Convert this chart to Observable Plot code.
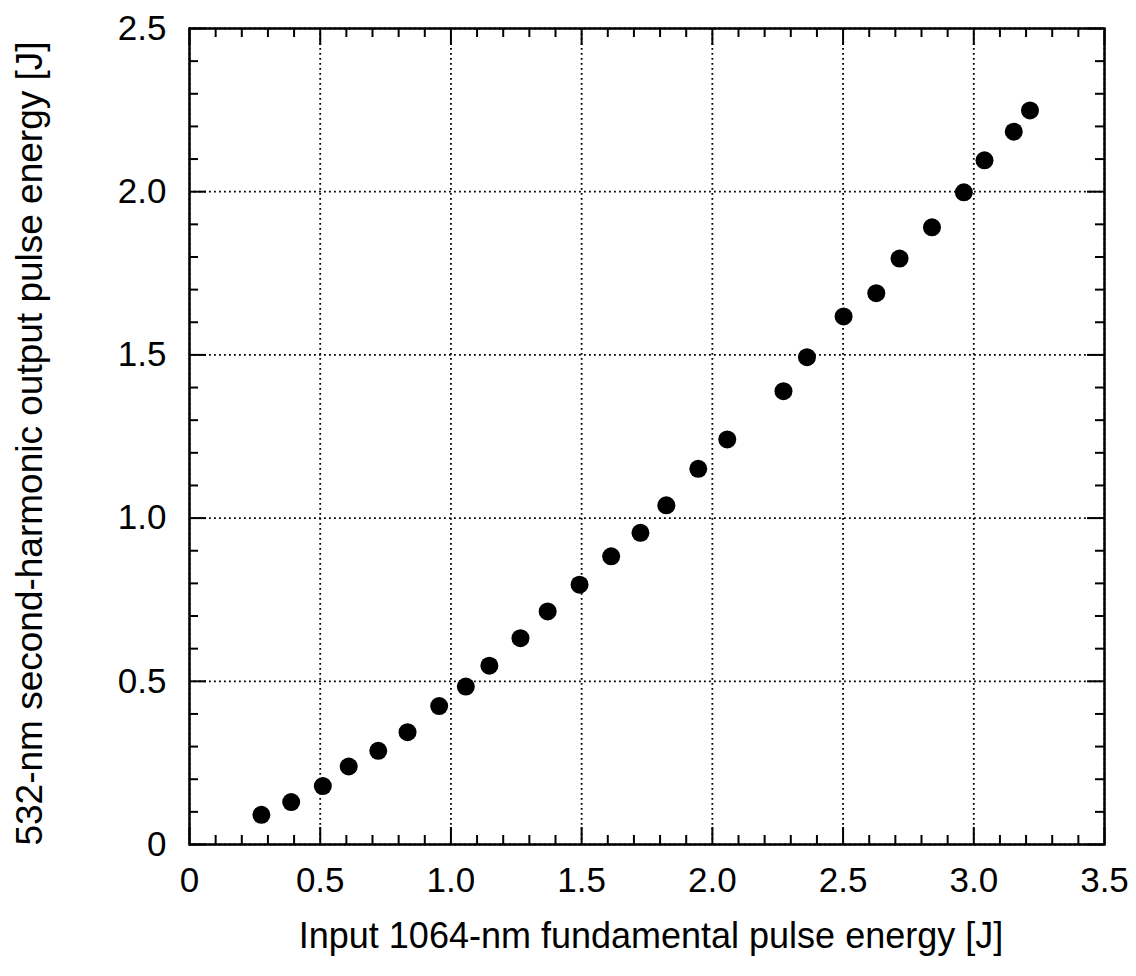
<!DOCTYPE html>
<html>
<head>
<meta charset="utf-8">
<script src="https://cdn.jsdelivr.net/npm/d3@7"></script>
<script src="https://cdn.jsdelivr.net/npm/@observablehq/plot@0.6"></script>
<style>
  html, body { margin: 0; padding: 0; background: #fff; }
  #chart svg { display: block; }
</style>
</head>
<body>
<div id="chart"></div>
<script>
// Data
const inputEnergy  = [0.275, 0.389, 0.510, 0.609, 0.722, 0.834, 0.955, 1.057, 1.147, 1.266,
                      1.370, 1.492, 1.613, 1.725, 1.824, 1.946, 2.057, 2.272, 2.362, 2.502,
                      2.627, 2.716, 2.840, 2.962, 3.041, 3.153, 3.215];
const outputEnergy = [0.091, 0.130, 0.179, 0.239, 0.287, 0.344, 0.424, 0.484, 0.548, 0.632,
                      0.714, 0.796, 0.883, 0.955, 1.039, 1.151, 1.241, 1.389, 1.493, 1.618,
                      1.689, 1.795, 1.891, 1.998, 2.096, 2.184, 2.249];

const xMajorTicks = [0, 0.5, 1.0, 1.5, 2.0, 2.5, 3.0, 3.5];
const xTickLabels = ["0", "0.5", "1.0", "1.5", "2.0", "2.5", "3.0", "3.5"];
const yMajorTicks = [0, 0.5, 1.0, 1.5, 2.0, 2.5];
const yTickLabels = ["0", "0.5", "1.0", "1.5", "2.0", "2.5"];
const xMinorTicks = [0.1,0.2,0.3,0.4, 0.6,0.7,0.8,0.9, 1.1,1.2,1.3,1.4, 1.6,1.7,1.8,1.9,
                     2.1,2.2,2.3,2.4, 2.6,2.7,2.8,2.9, 3.1,3.2,3.3,3.4];
const yMinorTicks = [0.1,0.2,0.3,0.4, 0.6,0.7,0.8,0.9, 1.1,1.2,1.3,1.4, 1.6,1.7,1.8,1.9,
                     2.1,2.2,2.3,2.4];

const xTitle = "Input 1064-nm fundamental pulse energy [J]";
const yTitle = "532-nm second-harmonic output pulse energy [J]";

const points = inputEnergy.map((x, i) => ({x, y: outputEnergy[i]}));
const xLabelOf = d => xTickLabels[xMajorTicks.indexOf(+d)];
const yLabelOf = d => yTickLabels[yMajorTicks.indexOf(+d)];

// layout
const W = 1136, H = 976, mL = 189, mR = 32, mT = 28, mB = 132;
const innerW = W - mL - mR, innerH = H - mT - mB;
const majorLen = 17, minorLen = 9;

const font = "'Liberation Sans', Arial, Helvetica, sans-serif";
const tickStyle = {stroke: "black", strokeWidth: 2, strokeOpacity: 1};
const gridStyle = {stroke: "black", strokeOpacity: 1, strokeWidth: 1.8, strokeDasharray: "1.8,3.2"};

const chart = Plot.plot({
  width: W,
  height: H,
  marginLeft: mL,
  marginRight: mR,
  marginTop: mT,
  marginBottom: mB,
  style: {fontFamily: font, fontSize: "35px", color: "black", background: "white", overflow: "visible"},
  x: {domain: [0, 3.5], ticks: xMajorTicks, tickFormat: xLabelOf, tickSize: 0, tickPadding: 23, label: null},
  y: {domain: [0, 2.5], ticks: yMajorTicks, tickFormat: yLabelOf, tickSize: 0, tickPadding: 23, label: null},
  marks: [
    // dotted grid
    Plot.ruleX(xMajorTicks, gridStyle),
    Plot.ruleY(yMajorTicks, gridStyle),
    // inward ticks on all four sides
    Plot.tickX(xMajorTicks, {insetTop: innerH - majorLen, ...tickStyle}),
    Plot.tickX(xMinorTicks, {insetTop: innerH - minorLen, ...tickStyle}),
    Plot.tickX(xMajorTicks, {insetBottom: innerH - majorLen, ...tickStyle}),
    Plot.tickX(xMinorTicks, {insetBottom: innerH - minorLen, ...tickStyle}),
    Plot.tickY(yMajorTicks, {insetRight: innerW - majorLen, ...tickStyle}),
    Plot.tickY(yMinorTicks, {insetRight: innerW - minorLen, ...tickStyle}),
    Plot.tickY(yMajorTicks, {insetLeft: innerW - majorLen, ...tickStyle}),
    Plot.tickY(yMinorTicks, {insetLeft: innerW - minorLen, ...tickStyle}),
    // frame
    Plot.frame({stroke: "black", strokeWidth: 2.5}),
    // data
    Plot.dot(points, {x: "x", y: "y", r: 9, fill: "black", stroke: "none"}),
    // axis titles
    Plot.text([xTitle], {frameAnchor: "bottom", textAnchor: "middle", lineAnchor: "middle",
                         dx: 4, dy: 92, fontSize: 36, fill: "black"}),
    Plot.text([yTitle], {frameAnchor: "left", textAnchor: "middle", lineAnchor: "middle",
                         dx: -159, dy: 7, rotate: -90, fontSize: 37, fill: "black"})
  ]
});

document.getElementById("chart").appendChild(chart);
</script>
</body>
</html>
